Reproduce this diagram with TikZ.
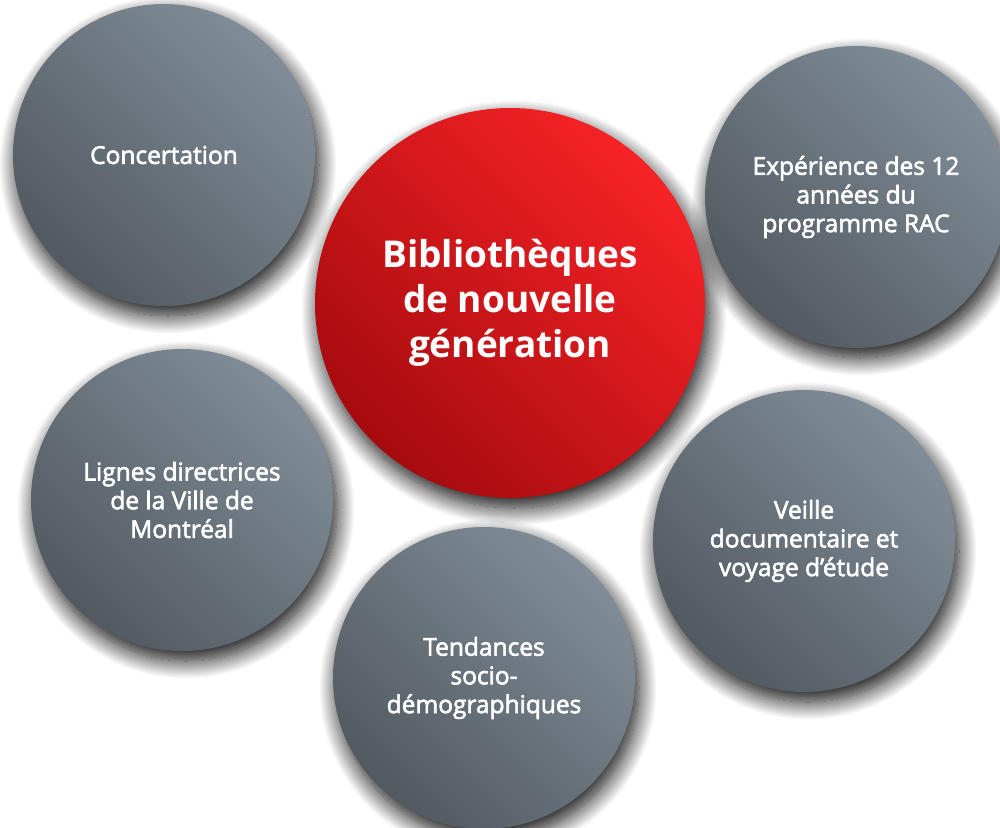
\documentclass[tikz,border=0pt]{standalone}
\usepackage{fontspec}
\setmainfont{Open Sans}
\newfontfamily\demigras{Open Sans}[FakeBold=2.5]
\usetikzlibrary{shadows.blur}
\definecolor{grisclair}{HTML}{808D98}
\definecolor{grisfonce}{HTML}{525960}
\definecolor{rougeclair}{HTML}{F62226}
\definecolor{rougefonce}{HTML}{A50B0E}
\begin{document}
\begin{tikzpicture}[x=1pt,y=-1pt,
	ombre/.style={blur shadow={shadow xshift=4pt,shadow yshift=-10pt,shadow blur radius=18pt,shadow blur steps=20,shadow opacity=95}},
	bulle/.style={circle,ombre,inner sep=0pt,minimum size=302pt,top color=grisclair,bottom color=grisfonce,shading angle=-45,text=white,align=center,font=\fontsize{24.5}{28.7}\demigras},
	coeur/.style={bulle,minimum size=390pt,top color=rougeclair,bottom color=rougefonce,shading angle=-45,font=\fontsize{37}{45}\selectfont\bfseries}]
	\useasboundingbox (0,0) rectangle (1000,827);
	% bulles autour
	\node[bulle] (concertation) at (164,155) {Concertation};
	\node[bulle] (experience) at (856,197) {Expérience des 12\\années du\\programme RAC};
	\node[bulle] (lignes) at (182,500) {Lignes directrices\\de la Ville de\\Montréal};
	\node[bulle] (veille) at (804,541) {Veille\\documentaire et\\voyage d’étude};
	\node[bulle] (tendances) at (484,678) {Tendances\\socio-\\démographiques};
	% centre
	\node[coeur] (biblio) at (510,303) {Bibliothèques\\de nouvelle\\génération};
\end{tikzpicture}
\end{document}
